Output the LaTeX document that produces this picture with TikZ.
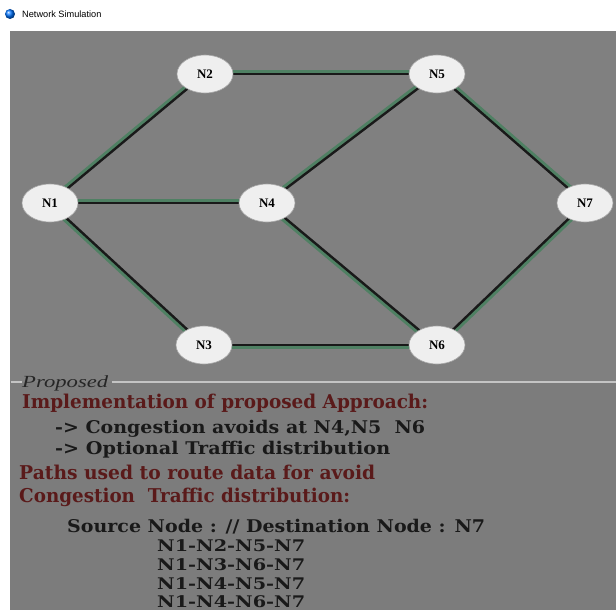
\documentclass[tikz,border=0pt]{standalone}
\usepackage{fontspec}
\usepackage{graphicx}
\setmainfont{Liberation Serif}
\newfontfamily\panelfont{DejaVu Serif}
\newfontfamily\uifont{Liberation Sans}
\usetikzlibrary{shapes.geometric,backgrounds,calc}
\definecolor{canvasgrey}{HTML}{808080}
\definecolor{panelgrey}{HTML}{7C7C7C}
\definecolor{linkgreen}{HTML}{4F8063}
\definecolor{nodefill}{HTML}{EFEFEF}
\definecolor{headred}{HTML}{5A1A1A}
\definecolor{rulegrey}{HTML}{C4C4C4}
\newcommand\fitto[2]{\resizebox{#1}{\height}{#2}}
\tikzset{
  netnode/.style={ellipse, draw=gray!70, line width=0.6pt, fill=nodefill,
    minimum width=56pt, minimum height=38pt, inner sep=0pt,
    font=\fontsize{13}{15}\selectfont\bfseries},
  linkglow/.style={line width=3.6pt, draw=linkgreen},
  linkcore/.style={line width=2.4pt, draw=black!90},
  headline/.style={anchor=base west, inner sep=0pt, text=headred,
    font=\panelfont\bfseries\fontsize{19}{22}\selectfont},
  bodyline/.style={anchor=base west, inner sep=0pt, text=black!90,
    font=\panelfont\bfseries\fontsize{17.5}{20}\selectfont},
  pathline/.style={anchor=base west, inner sep=0pt, text=black!90,
    font=\panelfont\bfseries\fontsize{16}{19}\selectfont},
  rulestroke/.style={draw=rulegrey, line width=1.6pt}
}
\begin{document}
\begin{tikzpicture}[x=1pt,y=-1pt]
\useasboundingbox (0,0) rectangle (616,610);

% network nodes
\node[netnode] (n1) at (50,203) {N1};
\node[netnode] (n2) at (205,74) {N2};
\node[netnode] (n5) at (437,74) {N5};
\node[netnode] (n4) at (267,203) {N4};
\node[netnode] (n7) at (585,203) {N7};
\node[netnode] (n3) at (204,345) {N3};
\node[netnode] (n6) at (437,345) {N6};

\begin{scope}[on background layer]
  % window frame and canvas
  \fill[white] (0,0) rectangle (616,610);
  \fill[canvasgrey] (10,31) rectangle (616,382);
  \fill[panelgrey] (10,382) rectangle (616,610);
  % links: dark core with a green band on the left of the travel direction
  \foreach \a/\b in {n1/n2,n1/n4,n3/n1,n2/n5,n4/n5,n5/n7,n6/n4,n6/n3,n7/n6}{
    \draw[linkglow] ($(\a.center)!2.4pt!90:(\b.center)$) -- ($(\b.center)!2.4pt!-90:(\a.center)$);
    \draw[linkcore] (\a.center) -- (\b.center);
  }
\end{scope}

% title bar
\shade[ball color=blue!55!cyan] (10,14) circle (5pt);
\node[anchor=west, inner sep=0pt, font=\uifont\fontsize{9.2}{11}\selectfont] (title) at (22,14) {Network Simulation};

% group box separator with caption
\node[anchor=base west, inner sep=0pt, font=\itshape\fontsize{17}{20}\selectfont, text=black!85] (caption) at (22,387) {\fitto{86pt}{Proposed}};
\draw[rulestroke] (11,382) -- (caption.west |- 0,382);
\draw[rulestroke] ([xshift=4pt]caption.east |- 0,382) -- (616,382);

% report text
\node[headline] (impl) at (22,408) {\fitto{406pt}{Implementation of proposed Approach:}};
\node[bodyline] (cong) at (55,433) {\fitto{370pt}{-> Congestion avoids at N4,N5\ \ N6}};
\node[bodyline] (opt) at (55,454) {\fitto{335pt}{-> Optional Traffic distribution}};
\node[headline] (paths) at (19,479) {\fitto{356pt}{Paths used to route data for avoid}};
\node[headline] (cong2) at (19,502) {\fitto{331pt}{Congestion\ \ Traffic distribution:}};
\node[bodyline] (src) at (67,532) {\fitto{418pt}{Source Node : // Destination Node : N7}};
\node[pathline] (p1) at (157,551) {\fitto{148pt}{N1-N2-N5-N7}};
\node[pathline] (p2) at (157,570) {\fitto{148pt}{N1-N3-N6-N7}};
\node[pathline] (p3) at (157,589) {\fitto{148pt}{N1-N4-N5-N7}};
\node[pathline] (p4) at (157,607.5) {\fitto{148pt}{N1-N4-N6-N7}};
\end{tikzpicture}
\end{document}
